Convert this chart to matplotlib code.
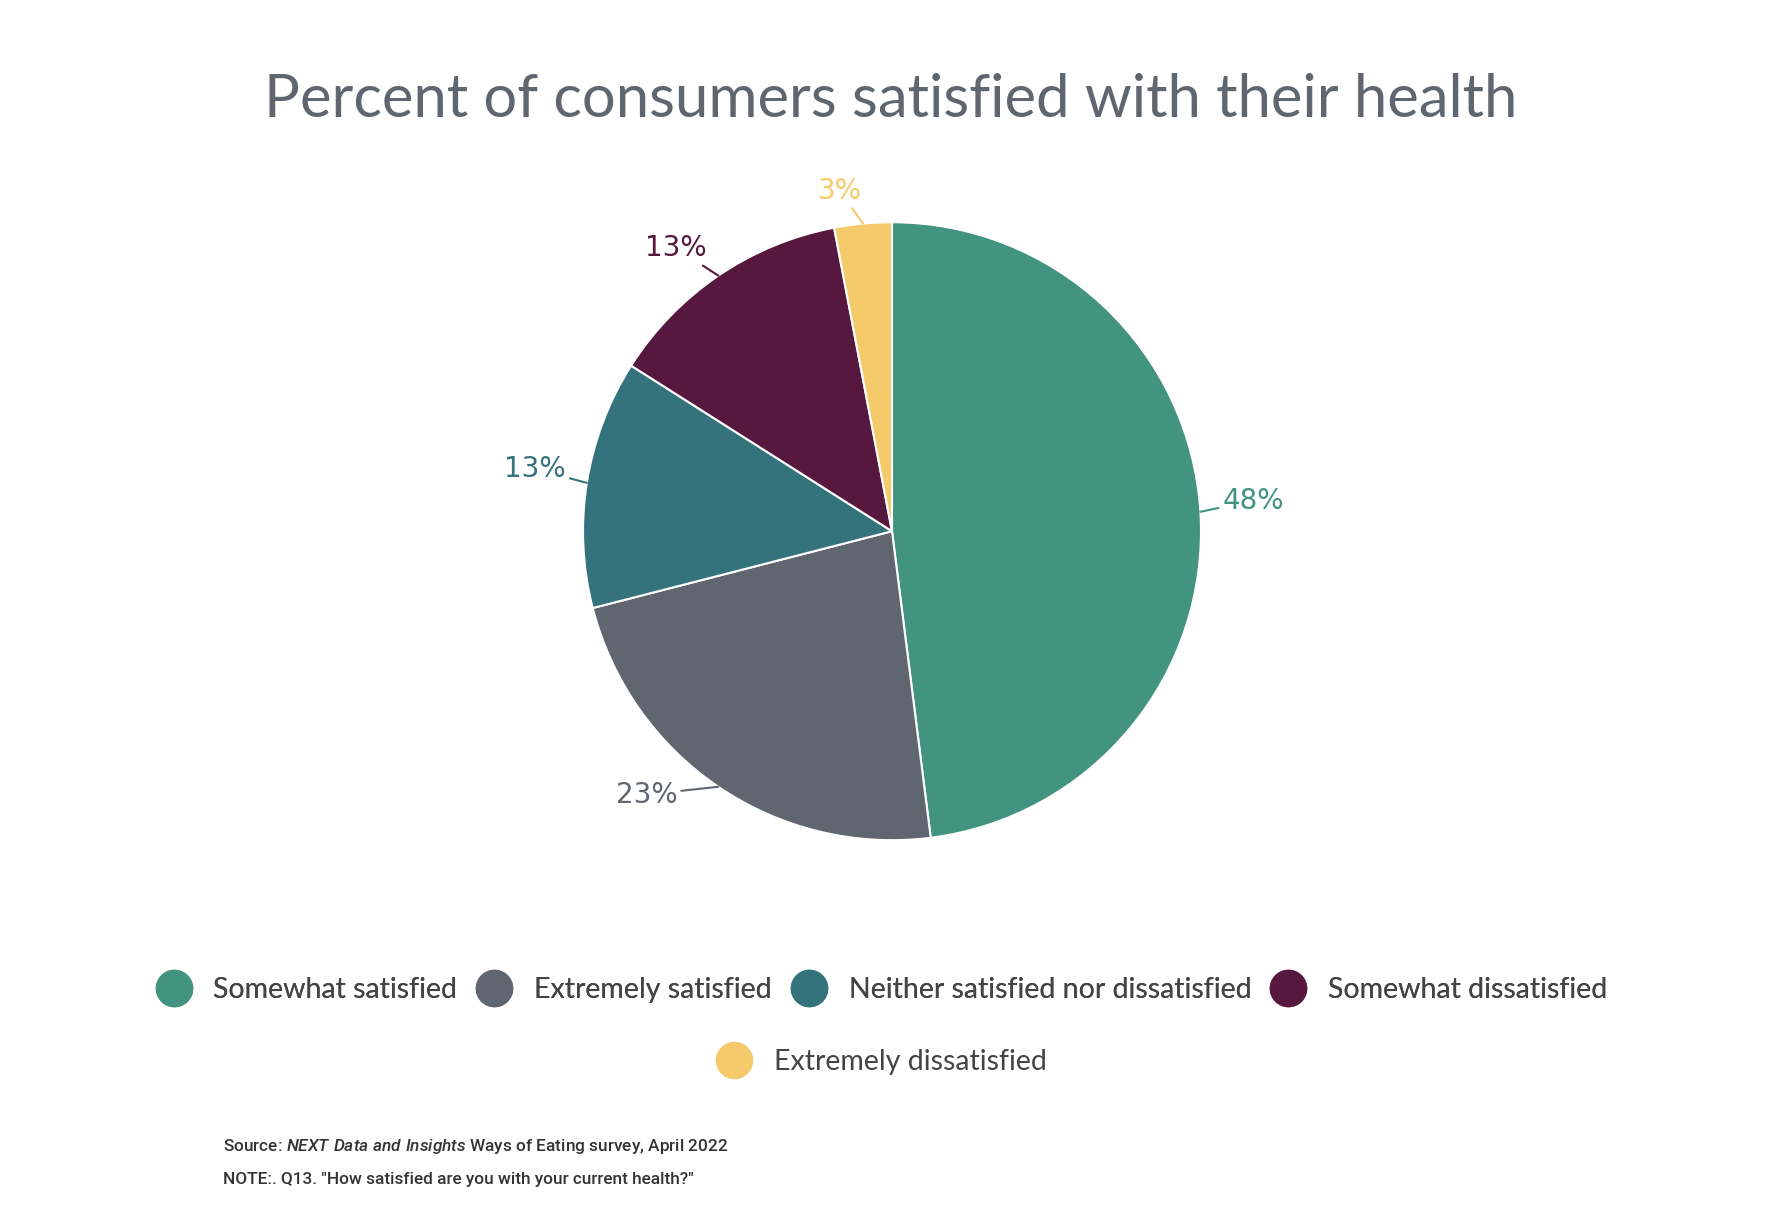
import numpy as np
import matplotlib.pyplot as plt
from matplotlib.lines import Line2D

plt.rcParams['mathtext.fontset'] = 'custom'
plt.rcParams['mathtext.it'] = 'Roboto:italic:medium'
plt.rcParams['mathtext.rm'] = 'Roboto:medium'

# data
categories = ['Somewhat satisfied', 'Extremely satisfied',
              'Neither satisfied nor dissatisfied', 'Somewhat dissatisfied',
              'Extremely dissatisfied']
values = [48, 23, 13, 13, 3]
colors = ['#42937f', '#5f6670', '#35737c', '#56183e', '#f5ca6b']

# label placement (radius factor, angle shift in degrees)
label_r = [1.075, 1.1, 1.075, 1.095, 1.107]
label_dang = [1.7, -5.0, -1.8, -1.0, -0.3]

fig = plt.figure(figsize=(17.84, 12.24), dpi=100)
fig.patch.set_facecolor('white')

fig.text(0.4995, 0.918, 'Percent of consumers satisfied with their health',
         ha='center', va='center', fontsize=43, color='#5f6670',
         family='Lato')

ax = fig.add_axes([0.5 - 0.1732, 0.566 - 0.2525, 0.3464, 0.505])
wedges, _ = ax.pie(values, colors=colors, startangle=90, counterclock=False,
                   radius=1, wedgeprops=dict(edgecolor='white', linewidth=1.5))
ax.set_xlim(-1, 1)
ax.set_ylim(-1, 1)
ax.set_aspect('equal')
ax.axis('off')

for w, v, c, r, da in zip(wedges, values, colors, label_r, label_dang):
    mid = np.deg2rad((w.theta1 + w.theta2) / 2)
    ang = mid + np.deg2rad(da)
    x, y = np.cos(mid), np.sin(mid)
    tx, ty = r * np.cos(ang), r * np.sin(ang)
    ha = 'left' if tx > 0 else 'right'
    ax.annotate(f'{v}%', xy=(x, y), xytext=(tx, ty),
                ha=ha, va='center', fontsize=20, color=c, family='DejaVu Sans',
                annotation_clip=False,
                arrowprops=dict(arrowstyle='-', color=c, lw=1.5,
                                shrinkA=1, shrinkB=0))

handles = [Line2D([], [], marker='o', linestyle='', markersize=26,
                  markerfacecolor=c, markeredgecolor=c) for c in colors]
leg1 = fig.legend(handles[:4], categories[:4], loc='center',
                  bbox_to_anchor=(0.494, 0.191), ncol=4, frameon=False,
                  handlelength=1.3, handletextpad=0.75,
                  columnspacing=0.65, labelcolor='#444444',
                  prop=dict(family='Lato', size=20.5))
fig.add_artist(leg1)
fig.legend(handles[4:], categories[4:], loc='center',
           bbox_to_anchor=(0.494, 0.132), ncol=1, frameon=False,
           handlelength=1.3, handletextpad=0.75, labelcolor='#444444',
           prop=dict(family='Lato', size=20.5))

fig.text(0.125, 0.063, r'Source: $\it{NEXT\ Data\ and\ Insights}$ Ways of Eating survey, April 2022',
         fontsize=12.4, color='#333333', family='Roboto', weight='medium', va='center')
fig.text(0.125, 0.036, 'NOTE:. Q13. "How satisfied are you with your current health?"',
         fontsize=12.4, color='#333333', family='Roboto', weight='medium', va='center')

fig.savefig('out.png', dpi=100, facecolor='white')
